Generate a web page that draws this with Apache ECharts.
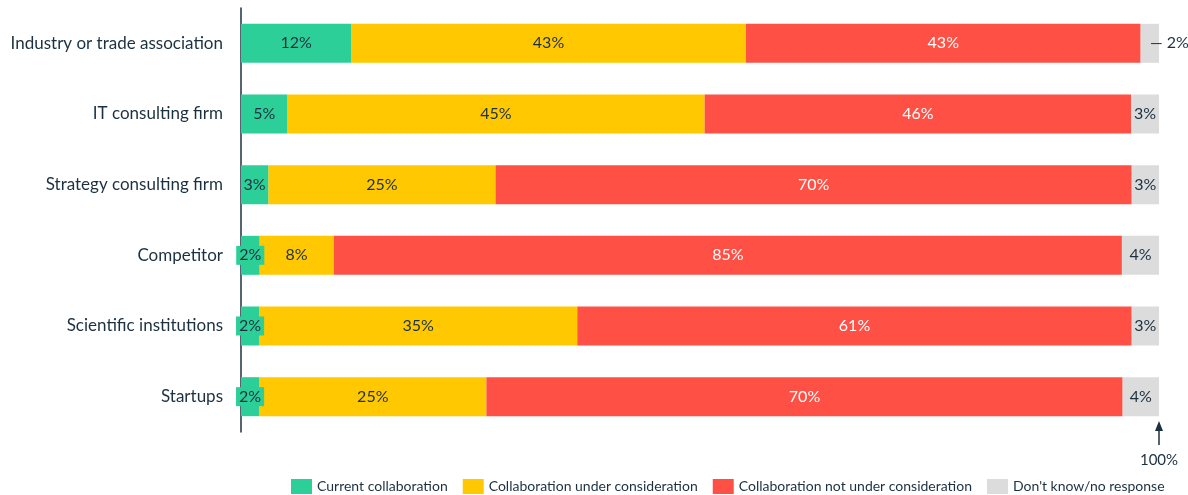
<!DOCTYPE html>
<html>
<head>
<meta charset="utf-8">
<script src="https://cdn.jsdelivr.net/npm/echarts@6/dist/echarts.min.js"></script>
<style>
  html, body { margin: 0; padding: 0; background: #fff; }
  #chart { width: 1188px; height: 495px; }
</style>
</head>
<body>
<div id="chart"></div>
<script>
// Partners asked about, top to bottom
const categories = [
  'Industry or trade association',
  'IT consulting firm',
  'Strategy consulting firm',
  'Competitor',
  'Scientific institutions',
  'Startups'
];

const seriesNames = [
  'Current collaboration',
  'Collaboration under consideration',
  'Collaboration not under consideration',
  "Don't know/no response"
];

// Survey answers in percent
const currentCollab   = [12, 5, 3, 2, 2, 2];
const underConsider   = [43, 45, 25, 8, 35, 25];
const notConsidered   = [43, 46, 70, 85, 61, 70];
const dontKnow        = [2, 3, 3, 4, 3, 4];

const axisMax = 100;
const axisTickLabel = '100%';

const colors = ['#2ccf97', '#ffc800', '#ff5046', '#dcdcdc'];
const textColor = '#1c3140';
const fontFamily = 'Lato, "Noto Sans", sans-serif';

const rawSeries = [currentCollab, underConsider, notConsidered, dontKnow];

// Each row is rescaled so the stacked bar spans the full 100%
const rowTotals = categories.map((_, i) =>
  rawSeries.reduce((s, arr) => s + arr[i], 0));

function buildData(arr, seriesIdx) {
  return arr.map((v, i) => {
    const item = { value: v / rowTotals[i] * 100 };
    if (seriesIdx === 0 && v <= 2) {
      // narrow segment: label gets a filled box so it stays readable
      item.label = { backgroundColor: colors[0], padding: [2, 3, 1, 3] };
    }
    if (seriesIdx === 3 && v <= 2) {
      // too narrow for an inside label: place it beside the bar
      item.label = { position: 'right', distance: -9 };
    }
    return item;
  });
}

const series = rawSeries.map((arr, si) => ({
  name: seriesNames[si],
  type: 'bar',
  stack: 'total',
  barWidth: 39,
  z: si === 0 ? 3 : 2,
  itemStyle: { color: colors[si] },
  emphasis: { disabled: true },
  label: {
    show: true,
    position: 'inside',
    fontFamily,
    fontSize: 16,
    color: si === 2 ? '#ffffff' : textColor,
    formatter: (p) => {
      const v = arr[p.dataIndex];
      return (si === 3 && v <= 2) ? '— ' + v + '%' : v + '%';
    }
  },
  data: buildData(arr, si)
}));

const chart = echarts.init(document.getElementById('chart'), null, { renderer: 'canvas' });

chart.setOption({
  animation: false,
  backgroundColor: '#ffffff',
  grid: { left: 241, right: 29, top: 8, bottom: 63, containLabel: false },
  xAxis: {
    type: 'value',
    min: 0,
    max: axisMax,
    show: false
  },
  yAxis: {
    type: 'category',
    data: categories,
    inverse: true,
    axisLine: { show: true, lineStyle: { color: textColor, width: 1.5 } },
    axisTick: { show: false },
    axisLabel: {
      margin: 18,
      fontFamily,
      fontSize: 17,
      color: textColor
    },
    z: 2.5
  },
  legend: {
    data: seriesNames,
    top: 474,
    left: 286,
    itemWidth: 21,
    itemHeight: 15,
    itemGap: 15,
    icon: 'rect',
    selectedMode: false,
    textStyle: { fontFamily, fontSize: 14, color: textColor }
  },
  series
});

// Arrow marking the 100% end of the bars
const x100 = chart.convertToPixel({ xAxisIndex: 0 }, axisMax);
chart.setOption({
  graphic: [
    {
      type: 'line',
      shape: { x1: x100, y1: 428, x2: x100, y2: 445 },
      style: { stroke: textColor, lineWidth: 1.5 }
    },
    {
      type: 'polygon',
      shape: { points: [[x100 - 4, 431], [x100 + 4, 431], [x100, 421]] },
      style: { fill: textColor }
    },
    {
      type: 'text',
      x: x100,
      y: 460,
      style: {
        text: axisTickLabel,
        fontFamily,
        fontSize: 15,
        fill: textColor,
        align: 'center',
        verticalAlign: 'middle'
      }
    }
  ]
});
</script>
</body>
</html>
